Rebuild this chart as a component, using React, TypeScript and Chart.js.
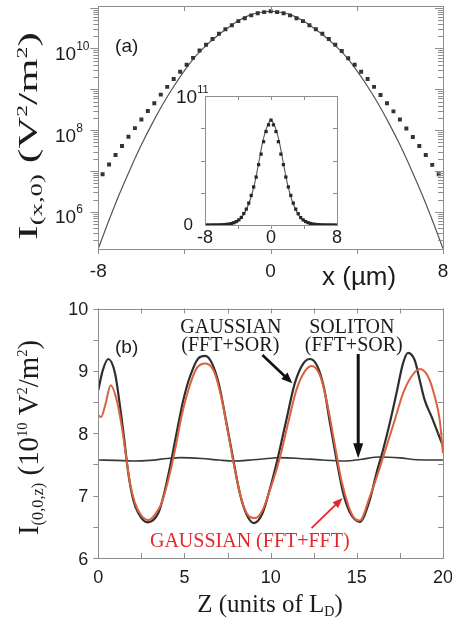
import React, { useEffect, useRef } from 'react';
import { Chart, registerables } from 'chart.js';
Chart.register(...registerables);

const W = 452;
const H = 623;

// ---------- Panel (a): I(x,0) on a log scale ----------
const lineX = [-8, -7.5, -7, -6.5, -6, -5.5, -5, -4.5, -4, -3.5, -3, -2.5, -2, -1.5, -1, -0.5, 0, 0.5, 1, 1.5, 2, 2.5, 3, 3.5, 4, 4.5, 5, 5.5, 6, 6.5, 7, 7.5, 8];
const lineLog10 = [5.10, 5.80, 6.46, 7.07, 7.64, 8.16, 8.64, 9.07, 9.46, 9.80, 10.07, 10.30, 10.50, 10.68, 10.81, 10.88, 10.91, 10.88, 10.81, 10.68, 10.50, 10.30, 10.07, 9.80, 9.46, 9.07, 8.64, 8.16, 7.64, 7.07, 6.46, 5.80, 5.10];

const squareX = [-7.8, -7.5, -7.2, -6.9, -6.6, -6.3, -6.0, -5.7, -5.4, -5.1, -4.8, -4.5, -4.2, -3.9, -3.6, -3.3, -3.0, -2.7, -2.4, -2.1, -1.8, -1.5, -1.2, -0.9, -0.6, -0.3, 0, 0.3, 0.6, 0.9, 1.2, 1.5, 1.8, 2.1, 2.4, 2.7, 3.0, 3.3, 3.6, 3.9, 4.2, 4.5, 4.8, 5.1, 5.4, 5.7, 6.0, 6.3, 6.6, 6.9, 7.2, 7.5, 7.8];
const squareLog10 = [6.92, 7.16, 7.39, 7.61, 7.84, 8.05, 8.26, 8.47, 8.66, 8.87, 9.06, 9.25, 9.43, 9.60, 9.77, 9.95, 10.09, 10.23, 10.36, 10.47, 10.57, 10.67, 10.74, 10.81, 10.86, 10.89, 10.91, 10.89, 10.86, 10.81, 10.74, 10.67, 10.57, 10.47, 10.36, 10.23, 10.09, 9.94, 9.76, 9.60, 9.43, 9.25, 9.06, 8.86, 8.66, 8.46, 8.26, 8.04, 7.83, 7.61, 7.39, 7.15, 6.92];

const aXTicks = [-8, -4, 0, 4, 8];
const aXLabels = [-8, 0, 8];
const aYLabelExps = [10, 8, 6];
const aYMinExp = 5.09;
const aYMaxExp = 11.04;

const insetXTicks = [-4, 0, 4];
const insetXLabels = [-8, 0, 8];
const insetYTicks = [2.5e10, 5e10, 7.5e10];
const insetYMax = 1e11;

// ---------- Panel (b): I(0,0,z) ----------
const gaussSorZ = [0, 0.25, 0.58, 0.97, 1.26, 1.51, 1.74, 2.03, 2.32, 2.84, 3.48, 3.87, 4.16, 4.54, 4.93, 5.32, 5.8, 6.2, 6.6, 7.0, 7.4, 7.83, 8.2, 8.6, 9.03, 9.5, 9.9, 10.43, 10.9, 11.4, 11.9, 12.28, 12.7, 13.1, 13.45, 13.82, 14.2, 14.6, 15.17, 15.75, 16.14, 16.52, 16.91, 17.3, 17.68, 17.97, 18.36, 18.65, 18.94, 19.33, 19.71, 20];
const gaussSorI = [8.69, 9.0, 9.19, 8.96, 8.43, 7.89, 7.36, 6.93, 6.72, 6.57, 6.72, 7.09, 7.46, 8.0, 8.53, 8.91, 9.2, 9.24, 9.12, 8.78, 8.22, 7.58, 7.05, 6.7, 6.56, 6.7, 7.05, 7.62, 8.2, 8.8, 9.12, 9.19, 9.08, 8.72, 8.15, 7.58, 7.05, 6.73, 6.58, 6.93, 7.36, 7.73, 8.16, 8.64, 9.12, 9.29, 9.17, 8.85, 8.53, 8.27, 8.0, 7.79];

const gaussFftZ = [0, 0.16, 0.4, 0.72, 1.07, 1.36, 1.61, 1.84, 2.13, 2.5, 2.9, 3.3, 3.67, 4.06, 4.45, 4.83, 5.22, 5.7, 6.22, 6.7, 7.1, 7.5, 7.9, 8.3, 8.65, 9.08, 9.5, 9.95, 10.5, 11.0, 11.5, 12.0, 12.4, 12.9, 13.3, 13.7, 14.1, 14.5, 14.8, 15.17, 15.75, 16.23, 16.72, 17.2, 17.68, 18.17, 18.65, 19.13, 19.52, 19.81, 20];
const gaussFftI = [8.29, 8.26, 8.45, 8.77, 8.53, 8.11, 7.63, 7.2, 6.88, 6.68, 6.61, 6.7, 6.88, 7.25, 7.73, 8.27, 8.69, 9.04, 9.12, 9.0, 8.62, 8.05, 7.45, 6.95, 6.7, 6.64, 6.75, 7.08, 7.57, 8.15, 8.7, 9.0, 9.08, 8.9, 8.45, 7.85, 7.25, 6.85, 6.66, 6.6, 6.98, 7.36, 7.79, 8.21, 8.64, 8.91, 9.03, 8.91, 8.59, 8.21, 7.68];

const solitonZ = [0, 1, 2, 3, 4, 4.8, 6, 7, 7.8, 9, 10, 10.5, 11.5, 13, 14.3, 15.2, 16.3, 17.5, 18.5, 20];
const solitonI = [7.57, 7.565, 7.555, 7.565, 7.595, 7.61, 7.595, 7.57, 7.555, 7.575, 7.6, 7.61, 7.6, 7.57, 7.555, 7.58, 7.62, 7.605, 7.575, 7.57];

const bYTicks = [6, 6.5, 7, 7.5, 8, 8.5, 9, 9.5, 10];
const bYLabels = [6, 7, 8, 9, 10];
const bXTicks = [0, 2.5, 5, 7.5, 10, 12.5, 15, 17.5, 20];
const bXLabels = [0, 5, 10, 15, 20];

// ---------- styles ----------
const SANS = '"Liberation Sans", Arial, Helvetica, sans-serif';
const SERIF = '"Liberation Serif", "Times New Roman", serif';
const FRAME = '#8e8e8e';
const TXT = '#1c1c1c';
const RED_TXT = '#e4262c';
const RED_LINE = '#d9623f';
const DARK = '#2e2e2e';

type Seg = { t: string; f: string; dy?: number };

function seg(ctx: CanvasRenderingContext2D, x1: number, y1: number, x2: number, y2: number) {
  ctx.beginPath();
  ctx.moveTo(x1, y1);
  ctx.lineTo(x2, y2);
  ctx.stroke();
}
function px(v: number) {
  return Math.round(v) + 0.5;
}
function frame(ctx: CanvasRenderingContext2D, a: any) {
  ctx.strokeStyle = FRAME;
  ctx.lineWidth = 1;
  const l = px(a.left), r = px(a.right), t = px(a.top), b = px(a.bottom);
  ctx.strokeRect(l, t, r - l, b - t);
}
function richWidth(ctx: CanvasRenderingContext2D, segs: Seg[]) {
  let w = 0;
  for (const s of segs) {
    ctx.font = s.f;
    w += ctx.measureText(s.t).width;
  }
  return w;
}
function drawRich(ctx: CanvasRenderingContext2D, segs: Seg[], x: number, y: number) {
  let cx = x;
  ctx.textAlign = 'left';
  ctx.textBaseline = 'alphabetic';
  for (const s of segs) {
    ctx.font = s.f;
    ctx.fillText(s.t, cx, y + (s.dy || 0));
    cx += ctx.measureText(s.t).width;
  }
}
function drawRotated(ctx: CanvasRenderingContext2D, segs: Seg[], baseX: number, centerY: number, length: number) {
  const w = richWidth(ctx, segs);
  ctx.save();
  ctx.translate(baseX, centerY);
  ctx.rotate(-Math.PI / 2);
  ctx.scale(length / w, 1);
  drawRich(ctx, segs, -w / 2, 0);
  ctx.restore();
}
function arrow(ctx: CanvasRenderingContext2D, x1: number, y1: number, x2: number, y2: number, color: string, w: number, hl: number, hw: number) {
  const ang = Math.atan2(y2 - y1, x2 - x1);
  const c = Math.cos(ang), s = Math.sin(ang);
  const bx = x2 - hl * c, by = y2 - hl * s;
  ctx.strokeStyle = color;
  ctx.fillStyle = color;
  ctx.lineWidth = w;
  seg(ctx, x1, y1, bx + c, by + s);
  ctx.beginPath();
  ctx.moveTo(x2, y2);
  ctx.lineTo(bx + (hw / 2) * s, by - (hw / 2) * c);
  ctx.lineTo(bx - (hw / 2) * s, by + (hw / 2) * c);
  ctx.closePath();
  ctx.fill();
}

// ---------- plugins ----------
const panelADecor = {
  id: 'panelADecor',
  afterDraw(chart: any) {
    const { ctx, chartArea: a } = chart;
    const x = chart.scales.x, y = chart.scales.y;
    ctx.save();
    frame(ctx, a);
    ctx.strokeStyle = FRAME;
    ctx.lineWidth = 1;
    for (const v of aXTicks) {
      const p = px(x.getPixelForValue(v));
      seg(ctx, p, a.top, p, a.top + 5);
      seg(ctx, p, a.bottom, p, a.bottom + 5);
    }
    for (let d = 5; d <= 11; d++) {
      for (let m = 1; m <= 9; m++) {
        const v = m * Math.pow(10, d);
        if (v < y.min || v > y.max) continue;
        const p = px(y.getPixelForValue(v));
        const len = m === 1 ? 8 : 5;
        seg(ctx, a.left - len, p, a.left, p);
        seg(ctx, a.right - len, p, a.right, p);
      }
    }
    ctx.fillStyle = TXT;
    ctx.textAlign = 'center';
    ctx.textBaseline = 'alphabetic';
    ctx.font = `19px ${SANS}`;
    for (const v of aXLabels) {
      ctx.fillText(String(v), x.getPixelForValue(v), a.bottom + 28);
    }
    for (const e of aYLabelExps) {
      const p = y.getPixelForValue(Math.pow(10, e));
      drawRich(ctx, [{ t: '10', f: `19px ${SANS}`, dy: 11.5 }, { t: String(e), f: `12px ${SANS}`, dy: 1.5 }], 55, p);
    }
    ctx.font = `19px ${SANS}`;
    ctx.textAlign = 'left';
    ctx.fillText('(a)', x.getPixelForValue(-7.22), y.getPixelForValue(Math.pow(10, 9.914)));
    ctx.font = `26px ${SANS}`;
    ctx.fillText('x (\u00b5m)', 322, a.bottom + 36);
    drawRotated(
      ctx,
      [
        { t: 'I', f: `28px ${SERIF}` },
        { t: '(x,0)', f: `17px ${SERIF}`, dy: 5 },
        { t: ' (V', f: `28px ${SERIF}` },
        { t: '2', f: `15px ${SERIF}`, dy: -10 },
        { t: '/m', f: `28px ${SERIF}` },
        { t: '2', f: `15px ${SERIF}`, dy: -10 },
        { t: ')', f: `28px ${SERIF}` },
      ],
      37,
      136,
      208
    );
    ctx.restore();
  },
};

const insetDecor = {
  id: 'insetDecor',
  beforeDatasetsDraw(chart: any) {
    const { ctx, chartArea: a } = chart;
    ctx.save();
    ctx.fillStyle = '#ffffff';
    ctx.fillRect(a.left, a.top, a.right - a.left, a.bottom - a.top);
    ctx.restore();
  },
  afterDraw(chart: any) {
    const { ctx, chartArea: a } = chart;
    const x = chart.scales.x, y = chart.scales.y;
    ctx.save();
    frame(ctx, a);
    ctx.strokeStyle = FRAME;
    ctx.lineWidth = 1;
    for (const v of insetXTicks) {
      const p = px(x.getPixelForValue(v));
      seg(ctx, p, a.top, p, a.top + 4);
      seg(ctx, p, a.bottom, p, a.bottom + 4);
    }
    for (const v of insetYTicks) {
      const p = px(y.getPixelForValue(v));
      seg(ctx, a.left - 4, p, a.left, p);
      seg(ctx, a.right - 4, p, a.right, p);
    }
    ctx.fillStyle = TXT;
    ctx.textAlign = 'center';
    ctx.textBaseline = 'alphabetic';
    ctx.font = `18px ${SANS}`;
    for (const v of insetXLabels) {
      ctx.fillText(String(v), x.getPixelForValue(v), a.bottom + 18);
    }
    const top = y.getPixelForValue(insetYMax);
    drawRich(ctx, [{ t: '10', f: `19px ${SANS}`, dy: 7 }, { t: '11', f: `11px ${SANS}`, dy: -3 }], 176, top);
    ctx.font = `17px ${SANS}`;
    ctx.textAlign = 'right';
    ctx.fillText('0', 193, y.getPixelForValue(0) + 5);
    ctx.restore();
  },
};

const panelBDecor = {
  id: 'panelBDecor',
  afterDraw(chart: any) {
    const { ctx, chartArea: a } = chart;
    const x = chart.scales.x, y = chart.scales.y;
    const X = (v: number) => x.getPixelForValue(v);
    const Y = (v: number) => y.getPixelForValue(v);
    ctx.save();
    frame(ctx, a);
    ctx.strokeStyle = FRAME;
    ctx.lineWidth = 1;
    for (const v of bYTicks) {
      const p = px(Y(v));
      seg(ctx, a.left - 5, p, a.left, p);
      seg(ctx, a.right - 5, p, a.right, p);
    }
    for (const v of bXTicks) {
      const p = px(X(v));
      seg(ctx, p, a.bottom - 5, p, a.bottom);
      seg(ctx, p, a.top, p, a.top + 5);
    }
    ctx.fillStyle = TXT;
    ctx.textBaseline = 'alphabetic';
    ctx.font = `18px ${SANS}`;
    ctx.textAlign = 'right';
    for (const v of bYLabels) ctx.fillText(String(v), a.left - 10, Y(v) + 6.5);
    ctx.textAlign = 'center';
    for (const v of bXLabels) ctx.fillText(String(v), X(v), a.bottom + 25);

    ctx.textAlign = 'left';
    ctx.font = `19px ${SANS}`;
    ctx.fillText('(b)', X(0.97), Y(9.29));

    ctx.font = `20px ${SERIF}`;
    ctx.textAlign = 'center';
    ctx.fillText('GAUSSIAN', X(7.69), Y(9.61));
    ctx.fillText('(FFT+SOR)', X(7.66), Y(9.32));
    ctx.fillText('SOLITON', X(14.71), Y(9.61));
    ctx.fillText('(FFT+SOR)', X(14.82), Y(9.32));
    ctx.fillStyle = RED_TXT;
    ctx.fillText('GAUSSIAN (FFT+FFT)', X(8.79), Y(6.18));

    arrow(ctx, X(9.52), Y(9.255), X(11.26), Y(8.8), '#111', 2.6, 11, 9);
    arrow(ctx, X(15.08), Y(9.27), X(15.08), Y(7.6), '#111', 3, 15, 10);
    arrow(ctx, X(12.37), Y(6.48), X(14.17), Y(6.96), RED_TXT, 1.8, 10, 8);

    ctx.fillStyle = TXT;
    const xt: Seg[] = [
      { t: 'Z (units of L', f: `25px ${SERIF}` },
      { t: 'D', f: `14px ${SERIF}`, dy: 4 },
      { t: ')', f: `25px ${SERIF}` },
    ];
    const xw = richWidth(ctx, xt);
    drawRich(ctx, xt, 270 - xw / 2, a.bottom + 54);
    drawRotated(
      ctx,
      [
        { t: 'I', f: `30px ${SERIF}` },
        { t: '(0,0,z)', f: `17px ${SERIF}`, dy: 5 },
        { t: ' (10', f: `30px ${SERIF}` },
        { t: '10', f: `15px ${SERIF}`, dy: -11 },
        { t: ' V', f: `30px ${SERIF}` },
        { t: '2', f: `15px ${SERIF}`, dy: -11 },
        { t: '/m', f: `30px ${SERIF}` },
        { t: '2', f: `15px ${SERIF}`, dy: -11 },
        { t: ')', f: `30px ${SERIF}` },
      ],
      38,
      437.5,
      195
    );
    ctx.restore();
  },
};

function baseOptions(padding: any) {
  return {
    responsive: false,
    maintainAspectRatio: false,
    animation: false,
    devicePixelRatio: 1,
    events: [],
    layout: { padding },
    plugins: { legend: { display: false }, tooltip: { enabled: false }, title: { display: false } },
  };
}

export default function App() {
  const aRef = useRef<HTMLCanvasElement>(null);
  const insetRef = useRef<HTMLCanvasElement>(null);
  const bRef = useRef<HTMLCanvasElement>(null);

  useEffect(() => {
    const chartA = new Chart(aRef.current as HTMLCanvasElement, {
      type: 'line',
      data: {
        datasets: [
          {
            label: 'Gaussian',
            data: lineX.map((v, i) => ({ x: v, y: Math.pow(10, lineLog10[i]) })),
            borderColor: '#555555',
            borderWidth: 1.2,
            pointRadius: 0,
            cubicInterpolationMode: 'monotone',
            fill: false,
            order: 1,
          },
          {
            label: 'Computed',
            data: squareX.map((v, i) => ({ x: v, y: Math.pow(10, squareLog10[i]) })),
            showLine: false,
            pointStyle: 'rect',
            pointRadius: 2.8,
            pointBackgroundColor: '#333333',
            pointBorderWidth: 0,
            order: 0,
          },
        ],
      },
      options: {
        ...baseOptions({ left: 98.3, right: 9, top: 6, bottom: H - 249 }),
        scales: {
          x: { type: 'linear', min: -8, max: 8, display: false },
          y: { type: 'logarithmic', min: Math.pow(10, aYMinExp), max: Math.pow(10, aYMaxExp), display: false },
        },
      } as any,
      plugins: [panelADecor],
    });

    const chartInset = new Chart(insetRef.current as HTMLCanvasElement, {
      type: 'line',
      data: {
        datasets: [
          {
            label: 'Gaussian',
            data: lineX.map((v, i) => ({ x: v, y: Math.pow(10, lineLog10[i]) })),
            borderColor: '#555555',
            borderWidth: 1.1,
            pointRadius: 0,
            cubicInterpolationMode: 'monotone',
            fill: false,
            order: 1,
          },
          {
            label: 'Computed',
            data: squareX.map((v, i) => ({ x: v, y: Math.pow(10, squareLog10[i]) })),
            showLine: false,
            pointStyle: 'rect',
            pointRadius: 2.3,
            pointBackgroundColor: '#262626',
            pointBorderWidth: 0,
            order: 0,
          },
        ],
      },
      options: {
        ...baseOptions({ left: 205, right: W - 337, top: 96, bottom: H - 225 }),
        scales: {
          x: { type: 'linear', min: -8, max: 8, display: false },
          y: { type: 'linear', min: 0, max: insetYMax, display: false },
        },
      } as any,
      plugins: [insetDecor],
    });

    const chartB = new Chart(bRef.current as HTMLCanvasElement, {
      type: 'line',
      data: {
        datasets: [
          {
            label: 'GAUSSIAN (FFT+FFT)',
            data: gaussFftZ.map((v, i) => ({ x: v, y: gaussFftI[i] })),
            borderColor: RED_LINE,
            borderWidth: 2,
            pointRadius: 0,
            cubicInterpolationMode: 'monotone',
            fill: false,
            order: 0,
          },
          {
            label: 'GAUSSIAN (FFT+SOR)',
            data: gaussSorZ.map((v, i) => ({ x: v, y: gaussSorI[i] })),
            borderColor: DARK,
            borderWidth: 2.2,
            pointRadius: 0,
            cubicInterpolationMode: 'monotone',
            fill: false,
            order: 1,
          },
          {
            label: 'SOLITON (FFT+SOR)',
            data: solitonZ.map((v, i) => ({ x: v, y: solitonI[i] })),
            borderColor: '#383838',
            borderWidth: 1.6,
            pointRadius: 0,
            cubicInterpolationMode: 'monotone',
            fill: false,
            order: 2,
          },
        ],
      },
      options: {
        ...baseOptions({ left: 98.3, right: 9, top: 308.5, bottom: H - 558 }),
        scales: {
          x: { type: 'linear', min: 0, max: 20, display: false },
          y: { type: 'linear', min: 6, max: 10, display: false },
        },
      } as any,
      plugins: [panelBDecor],
    });

    return () => {
      chartA.destroy();
      chartInset.destroy();
      chartB.destroy();
    };
  }, []);

  const cs: React.CSSProperties = { position: 'absolute', left: 0, top: 0, width: W, height: H };
  return (
    <div style={{ position: 'absolute', left: 0, top: 0, width: W, height: H, background: '#ffffff' }}>
      <canvas ref={aRef} width={W} height={H} style={cs} />
      <canvas ref={insetRef} width={W} height={H} style={cs} />
      <canvas ref={bRef} width={W} height={H} style={cs} />
    </div>
  );
}
